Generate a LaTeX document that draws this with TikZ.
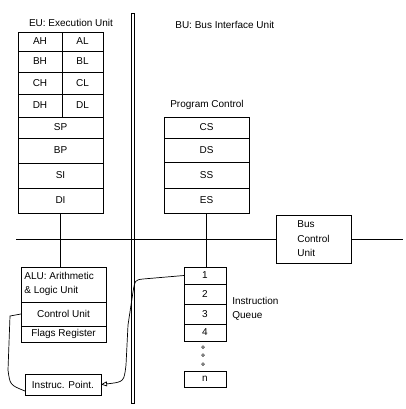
\documentclass[tikz,border=0pt]{standalone}
\usepackage{fontspec}
\setmainfont{Liberation Sans}
\usetikzlibrary{positioning,arrows.meta,shapes.geometric}

\begin{document}
\begin{tikzpicture}[x=1pt,y=-1pt,line width=0.7pt,node distance=0pt,font=\fontsize{10}{12}\selectfont]
    \tikzstyle{cell}=[rectangle,draw=black,inner sep=0pt,outer sep=0pt,anchor=north west]
    \tikzstyle{half}=[cell,minimum width=44pt]
    \tikzstyle{halfr}=[cell,minimum width=41pt]
    \tikzstyle{full}=[cell,minimum width=85pt]
    \tikzstyle{queue}=[cell,minimum width=42pt]
    \tikzstyle{dot}=[diamond,draw,inner sep=0pt,minimum size=3pt,line width=0.5pt]
    \tikzstyle{title}=[inner sep=0pt]

    \useasboundingbox (0,0) rectangle (406,409);

    % EU: Execution Unit
    \node[title] (EU-Title) at (71,23) {EU: Execution Unit};
    \node[half, minimum height=19pt, label=center:AH] (AH) at (18,32) {};
    \node[halfr, minimum height=19pt, label=center:AL, right=0pt of AH.north east, anchor=north west] (AL) {};
    \node[half, minimum height=21pt, label=center:BH, below=0pt of AH.south west, anchor=north west] (BH) {};
    \node[halfr, minimum height=21pt, label=center:BL, right=0pt of BH.north east, anchor=north west] (BL) {};
    \node[half, minimum height=22pt, label=center:CH, below=0pt of BH.south west, anchor=north west] (CH) {};
    \node[halfr, minimum height=22pt, label=center:CL, right=0pt of CH.north east, anchor=north west] (CL) {};
    \node[half, minimum height=23pt, label=center:DH, below=0pt of CH.south west, anchor=north west] (DH) {};
    \node[halfr, minimum height=23pt, label=center:DL, right=0pt of DH.north east, anchor=north west] (DL) {};
    \node[full, minimum height=21pt, label=center:SP, below=0pt of DH.south west, anchor=north west] (SP) {};
    \node[full, minimum height=25pt, label=center:BP, below=0pt of SP.south west, anchor=north west] (BP) {};
    \node[full, minimum height=25pt, label=center:SI, below=0pt of BP.south west, anchor=north west] (SI) {};
    \node[full, minimum height=25pt, label=center:DI, below=0pt of SI.south west, anchor=north west] (DI) {};

    % ALU and control
    \node[full, minimum height=35pt] (ALU) at (21,267) {};
    \node[title, align=left, anchor=west] (ALU-Text) at (24,284) {ALU: Arithmetic\\[2pt]\& Logic Unit};
    \node[full, minimum height=24pt, label=center:Control Unit, below=0pt of ALU.south west, anchor=north west] (CU) {};
    \node[full, minimum height=16pt, label=center:Flags Register, below=0pt of CU.south west, anchor=north west] (Flags) {};
    \node[cell, minimum width=76pt, minimum height=21pt, label=center:Instruc. Point.] (IP) at (25,374) {};

    % BU: Bus Interface Unit
    \node[title, anchor=west] (BU-Title) at (175,25) {BU: Bus Interface Unit};
    \node[title] (PC-Title) at (207,105) {Program Control};
    \node[full, minimum height=21pt, label=center:CS] (CS) at (164,117) {};
    \node[full, minimum height=24pt, label=center:DS, below=0pt of CS.south west, anchor=north west] (DS) {};
    \node[full, minimum height=26pt, label=center:SS, below=0pt of DS.south west, anchor=north west] (SS) {};
    \node[full, minimum height=25pt, label=center:ES, below=0pt of SS.south west, anchor=north west] (ES) {};

    \node[cell, minimum width=75pt, minimum height=48pt, align=left, anchor=center] (BCU) at (313.5,239) {Bus\\[2.5pt]Control\\[2.5pt]Unit};

    % Instruction queue
    \node[queue, minimum height=17pt, label=center:1] (Q1) at (184,267) {};
    \node[queue, minimum height=20pt, label=center:2, below=0pt of Q1.south west, anchor=north west] (Q2) {};
    \node[queue, minimum height=20pt, label=center:3, below=0pt of Q2.south west, anchor=north west] (Q3) {};
    \node[queue, minimum height=17pt, label=center:4, below=0pt of Q3.south west, anchor=north west] (Q4) {};
    \node[dot] (Dot1) at (203,347) {};
    \node[dot] (Dot2) at (203,355) {};
    \node[dot] (Dot3) at (203,364) {};
    \node[queue, minimum height=16pt, label=center:n] (Qn) at (184,371) {};
    \node[title, align=left, anchor=west] (Q-Title) at (232,308.5) {Instruction\\[2pt]Queue};

    % Bus and bar
    \coordinate (bus-left) at (16,239);
    \coordinate (bus-right) at (403,239);
    \path[draw] (bus-left) -- (BCU.west);
    \path[draw] (BCU.east) -- (bus-right);
    \node[draw, inner sep=0pt, minimum width=3pt, minimum height=390pt] (Bar) at (132.5,208) {};

    \path[draw] (DI.south) -- (DI.south |- ALU.north);
    \path[draw] (ES.south) -- (ES.south |- Q1.north);

    \path[draw, -{Triangle[open,length=6pt,width=5pt]}] (Q1.west) -- (143,279) .. controls (135,280) .. (133,292)
        -- (128,325) -- (126,365) .. controls (124,382) .. (IP.east);
    \path[draw] (CU.west) -- (10,316) -- (8,370) .. controls (10,385) .. ([yshift=-6.5pt]IP.west);

\end{tikzpicture}
\end{document}
